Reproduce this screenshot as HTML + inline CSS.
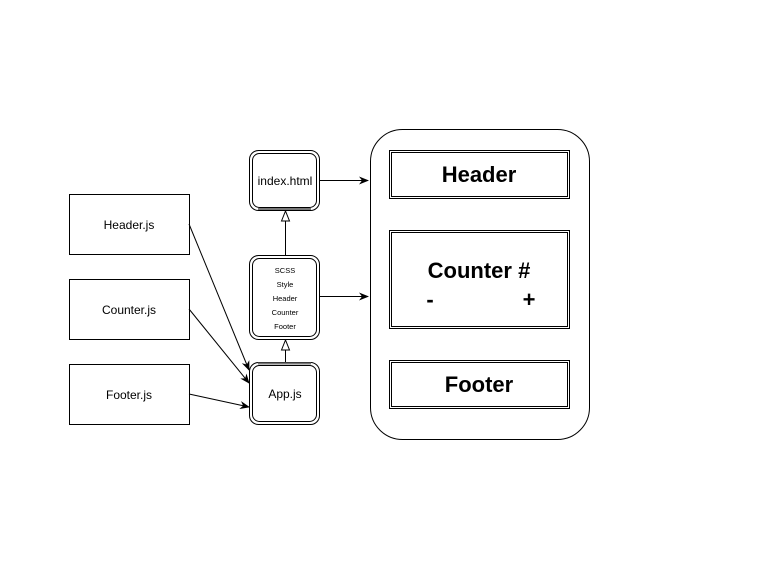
<!DOCTYPE html>
<html><head><style>body{margin:0;background:#fff}</style></head><body>
<svg width="760" height="570" xmlns="http://www.w3.org/2000/svg" font-family="Liberation Sans, Arial, sans-serif">
<defs>
<marker id="a" markerWidth="10" markerHeight="8" refX="9" refY="4" orient="auto" markerUnits="userSpaceOnUse"><path d="M0,0 L10,4 L0,8 L3,4 Z" fill="#000"/></marker>
<marker id="h" markerWidth="12" markerHeight="10" refX="11" refY="5" orient="auto" markerUnits="userSpaceOnUse"><path d="M1,1 L11,5 L1,9 Z" fill="#fff" stroke="#000"/></marker>
</defs>
<g fill="#fff" stroke="#000">
<rect x="69.5" y="194.5" width="120" height="60"/>
<rect x="69.5" y="279.5" width="120" height="60"/>
<rect x="69.5" y="364.5" width="120" height="60"/>
<rect x="249.5" y="150.5" width="70" height="60" rx="9"/><rect x="252.5" y="153.5" width="64" height="54" rx="7"/>
<rect x="249.5" y="255.5" width="70" height="84" rx="9"/><rect x="252.5" y="258.5" width="64" height="78" rx="7"/>
<rect x="249.5" y="362.5" width="70" height="62" rx="9"/><rect x="252.5" y="365.5" width="64" height="56" rx="7"/>
<rect x="370.5" y="129.5" width="219" height="310" rx="32"/>
<rect x="389.5" y="150.5" width="180" height="48"/><rect x="391.5" y="152.5" width="176" height="44"/>
<rect x="389.5" y="230.5" width="180" height="98"/><rect x="391.5" y="232.5" width="176" height="94"/>
<rect x="389.5" y="360.5" width="180" height="48"/><rect x="391.5" y="362.5" width="176" height="44"/>
</g>
<g stroke="#777" stroke-width="2">
<line x1="258" y1="209" x2="311" y2="209"/>
<line x1="258" y1="363.5" x2="311" y2="363.5"/>
</g>
<g stroke="#000" fill="none">
<line x1="319" y1="180.5" x2="368" y2="180.5" marker-end="url(#a)"/>
<line x1="319" y1="296.5" x2="368" y2="296.5" marker-end="url(#a)"/>
<line x1="189" y1="224" x2="249" y2="370" marker-end="url(#a)"/>
<line x1="189" y1="309" x2="249" y2="383" marker-end="url(#a)"/>
<line x1="189" y1="394" x2="249" y2="407" marker-end="url(#a)"/>
<line x1="285.5" y1="362" x2="285.5" y2="340" marker-end="url(#h)"/>
<line x1="285.5" y1="255" x2="285.5" y2="211" marker-end="url(#h)"/>
</g>
<g font-size="12" text-anchor="middle" fill="#000">
<text x="129" y="229">Header.js</text>
<text x="129" y="314">Counter.js</text>
<text x="129" y="399">Footer.js</text>
<text x="285" y="185">index.html</text>
<text x="285" y="398">App.js</text>
</g>
<g font-size="7.5" text-anchor="middle">
<text x="285" y="273">SCSS</text><text x="285" y="287">Style</text><text x="285" y="301">Header</text><text x="285" y="315">Counter</text><text x="285" y="329">Footer</text>
</g>
<g font-size="22" font-weight="bold" text-anchor="middle">
<text x="479" y="182">Header</text>
<text x="479" y="278">Counter #</text>
<text x="430" y="307">-</text><text x="529" y="307">+</text>
<text x="479" y="392">Footer</text>
</g>
</svg>
</body></html>
